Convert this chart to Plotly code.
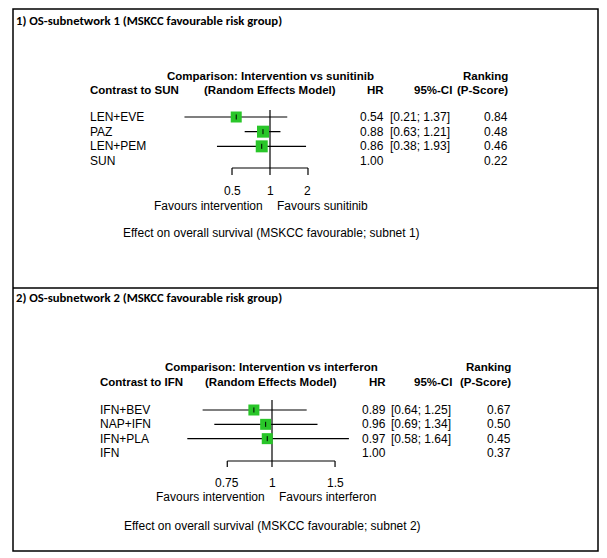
import math
import plotly.graph_objects as go

W, H = 607, 558

# ---------------- data ----------------
p1_title = "1) OS-subnetwork 1 (MSKCC favourable risk group)"
p1_labels = ["LEN+EVE", "PAZ", "LEN+PEM", "SUN"]
p1_hr = [0.54, 0.88, 0.86, 1.00]
p1_lo = [0.21, 0.63, 0.38, None]
p1_hi = [1.37, 1.21, 1.93, None]
p1_pscore = [0.84, 0.48, 0.46, 0.22]
p1_ticks = [0.5, 1, 2]
p1_tick_labels = ["0.5", "1", "2"]
p1_box = [11, 12, 12, 0]

p2_title = "2) OS-subnetwork 2 (MSKCC favourable risk group)"
p2_labels = ["IFN+BEV", "NAP+IFN", "IFN+PLA", "IFN"]
p2_hr = [0.89, 0.96, 0.97, 1.00]
p2_lo = [0.64, 0.69, 0.58, None]
p2_hi = [1.25, 1.34, 1.64, None]
p2_pscore = [0.67, 0.50, 0.45, 0.37]
p2_ticks = [0.75, 1, 1.5]
p2_tick_labels = ["0.75", "1", "1.5"]
p2_box = [11, 11, 11, 0]

FONT = "Arial, 'Liberation Sans', sans-serif"
TFONT = "Carlito, 'Liberation Sans Narrow', 'Roboto Condensed', Roboto, sans-serif"
GREEN = "#29c629"
NS = 12     # normal text size
BS = 11.5   # bold text size


def px(x):
    return x / W


def py(y):
    return 1 - y / H


fig = go.Figure()
ann = []
shapes = []

panels = [
    dict(title=p1_title, labels=p1_labels, hr=p1_hr, lo=p1_lo, hi=p1_hi, ps=p1_pscore,
         ticks=p1_ticks, tlab=p1_tick_labels, box=p1_box,
         xa="x", ya="y", x0=270, pxdec=126.2, row0=117, rowh=14.67,
         top=9, bot=288, title_y=20, head1=76, head2=90, null_top=110, axis_y=168, tick_bot=175,
         tick_lab_y=191, fav_y=206, eff_y=233, lab_x=89, hr_x=385, ci_x=389, cih_x=453, ps_x=509,
         contrast="Contrast to SUN", comp="Comparison: Intervention vs sunitinib",
         fav_l="Favours intervention", fav_r="Favours sunitinib", fav_c=270,
         effect="Effect on overall survival (MSKCC favourable; subnet 1)", eff_x=122, comp_c=270),
    dict(title=p2_title, labels=p2_labels, hr=p2_hr, lo=p2_lo, hi=p2_hi, ps=p2_pscore,
         ticks=p2_ticks, tlab=p2_tick_labels, box=p2_box,
         xa="x2", ya="y2", x0=272, pxdec=358.0, row0=410, rowh=14.33,
         top=288, bot=551, title_y=297, head1=367, head2=382, null_top=400, axis_y=461, tick_bot=467,
         tick_lab_y=483, fav_y=497, eff_y=526, lab_x=99, hr_x=387, ci_x=390, cih_x=453, ps_x=512,
         contrast="Contrast to IFN", comp="Comparison: Intervention vs interferon",
         fav_l="Favours intervention", fav_r="Favours interferon", fav_c=272,
         effect="Effect on overall survival (MSKCC favourable; subnet 2)", eff_x=123, comp_c=271),
]

layout_axes = {}
for i, p in enumerate(panels):
    n = len(p["labels"])
    rows = list(range(1, n + 1))
    xa, ya = p["xa"], p["ya"]
    xkey = "xaxis" if xa == "x" else "xaxis2"
    ykey = "yaxis" if ya == "y" else "yaxis2"

    def rv(pix, p=p):
        return 1 + (pix - p["row0"]) / p["rowh"]

    layout_axes[xkey] = dict(type="log", domain=[0, 1],
                             range=[-p["x0"] / p["pxdec"], (W - p["x0"]) / p["pxdec"]],
                             visible=False, anchor=ya)
    layout_axes[ykey] = dict(domain=[py(p["bot"]), py(p["top"])],
                             range=[rv(p["bot"]), rv(p["top"])], visible=False, anchor=xa)

    # CI lines
    cx, cy = [], []
    for r, lo, hi in zip(rows, p["lo"], p["hi"]):
        if lo is None:
            continue
        cx += [lo, hi, None]
        cy += [r, r, None]
    fig.add_trace(go.Scatter(x=cx, y=cy, mode="lines", line=dict(color="black", width=1.2),
                             xaxis=xa, yaxis=ya, hoverinfo="skip", showlegend=False))

    # null line + axis
    ax_r = rv(p["axis_y"])
    tb_r = rv(p["tick_bot"])
    nt_r = rv(p["null_top"])
    lx = [1, 1, None, min(p["ticks"]), max(p["ticks"]), None]
    ly = [nt_r, ax_r, None, ax_r, ax_r, None]
    for t in p["ticks"]:
        lx += [t, t, None]
        ly += [ax_r, tb_r, None]
    fig.add_trace(go.Scatter(x=lx, y=ly, mode="lines", line=dict(color="black", width=1.2),
                             xaxis=xa, yaxis=ya, hoverinfo="skip", showlegend=False))

    # boxes
    bx = [h for h, lo in zip(p["hr"], p["lo"]) if lo is not None]
    by = [r for r, lo in zip(rows, p["lo"]) if lo is not None]
    bs = [s for s, lo in zip(p["box"], p["lo"]) if lo is not None]
    fig.add_trace(go.Scatter(x=bx, y=by, mode="markers",
                             marker=dict(symbol="square", size=bs, color=GREEN, opacity=1,
                                         line=dict(width=0)),
                             xaxis=xa, yaxis=ya, hoverinfo="skip", showlegend=False))
    fig.add_trace(go.Scatter(x=bx, y=by, mode="markers",
                             marker=dict(symbol="line-ns", size=3.6, color="black",
                                         line=dict(width=1, color="black")),
                             xaxis=xa, yaxis=ya, hoverinfo="skip", showlegend=False))

    f = dict(family=FONT, size=NS, color="black")
    fb = dict(family=FONT, size=BS, color="black", weight="bold")

    def A(text, x, y, xanchor="left", font=f, xref="paper", yref="paper"):
        ann.append(dict(text=text, x=x, y=y, xref=xref, yref=yref, xanchor=xanchor,
                        yanchor="middle", showarrow=False, font=font, borderpad=0))

    # title
    A(p["title"], px(15), py(p["title_y"]),
      font=dict(family=TFONT, size=12.7, color="black", weight="bold"))
    # headers
    A(p["comp"], px(p["comp_c"]), py(p["head1"]), "center", fb)
    A("Ranking", px(p["ps_x"]), py(p["head1"]), "right", fb)
    A(p["contrast"], px(p["lab_x"]), py(p["head2"]), "left", fb)
    A("(Random Effects Model)", px(p["comp_c"]), py(p["head2"]), "center", fb)
    A("HR", px(p["hr_x"]), py(p["head2"]), "right", fb)
    A("95%-CI", px(p["cih_x"]), py(p["head2"]), "right", fb)
    A("(P-Score)", px(p["ps_x"]), py(p["head2"]), "right", fb)
    # rows
    for r, lab, h, lo, hi, s in zip(rows, p["labels"], p["hr"], p["lo"], p["hi"], p["ps"]):
        A(lab, px(p["lab_x"]), r, "left", f, yref=ya)
        A(f"{h:.2f}", px(p["hr_x"]), r, "right", f, yref=ya)
        if lo is not None:
            A(f"[{lo:.2f}; {hi:.2f}]", px(p["ci_x"]), r, "left", f, yref=ya)
        A(f"{s:.2f}", px(p["ps_x"]), r, "right", f, yref=ya)
    # tick labels (log axis -> annotation x in log10 units)
    for t, tl in zip(p["ticks"], p["tlab"]):
        A(tl, math.log10(t), py(p["tick_lab_y"]), "center", f, xref=xa)
    A(p["fav_l"], px(p["fav_c"] - 6), py(p["fav_y"]), "right", f)
    A(p["fav_r"], px(p["fav_c"] + 6), py(p["fav_y"]), "left", f)
    A(p["effect"], px(p["eff_x"]), py(p["eff_y"]), "left", f)

# borders
shapes.append(dict(type="rect", xref="paper", yref="paper", x0=px(13), x1=px(598),
                   y0=py(551), y1=py(9), line=dict(color="black", width=1.5)))
shapes.append(dict(type="line", xref="paper", yref="paper", x0=px(13), x1=px(598),
                   y0=py(288), y1=py(288), line=dict(color="black", width=1.5)))

fig.update_layout(width=W, height=H, margin=dict(l=0, r=0, t=0, b=0),
                  paper_bgcolor="white", plot_bgcolor="rgba(0,0,0,0)",
                  annotations=ann, shapes=shapes, showlegend=False, **layout_axes)

fig.write_html("out.html", config={"displayModeBar": False},
               post_script="document.body.style.margin='0';document.body.style.overflow='hidden';")
